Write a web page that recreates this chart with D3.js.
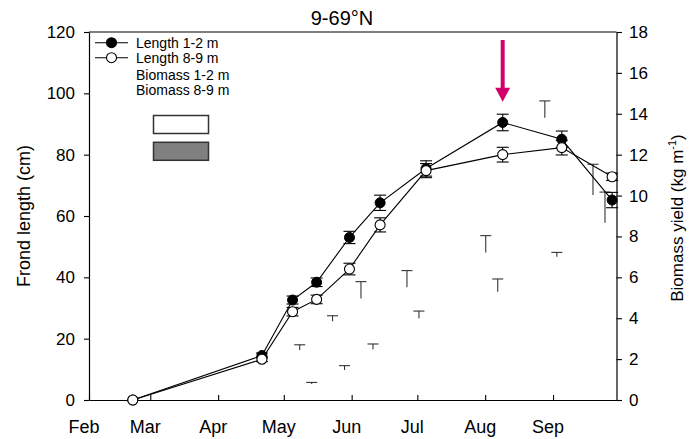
<!DOCTYPE html>
<html>
<head>
<meta charset="utf-8">
<script src="https://cdn.jsdelivr.net/npm/d3@7"></script>
<style>
  body { margin: 0; background: #fff; }
  svg text { font-family: "Liberation Sans", Arial, sans-serif; fill: #000; }
</style>
</head>
<body>
<svg id="chart" width="690" height="439"></svg>
<script>
// Month tick labels along the time axis
const monthLabels = ["Feb", "Mar", "Apr", "May", "Jun", "Jul", "Aug", "Sep"];

// Frond length sampling dates and values (cm, mean ± SE)
const lengthDates = ["2021-02-21", "2021-04-21", "2021-05-05", "2021-05-16", "2021-05-31",
                     "2021-06-14", "2021-07-05", "2021-08-09", "2021-09-05", "2021-09-28"];
const length12 = [0, 14.5, 32.6, 38.4, 53.0, 64.3, 75.5, 90.5, 85.0, 65.2];
const length12Err = [0, 0.8, 1.3, 1.4, 2.0, 2.5, 2.5, 2.7, 2.7, 2.5];
const length89 = [0, 13.3, 28.8, 32.8, 42.7, 57.1, 74.8, 80.0, 82.3, 72.8];
const length89Err = [0, 0.8, 1.4, 1.4, 1.9, 2.3, 2.3, 2.4, 2.4, 1.2];

// Biomass yield sampling dates and values (kg m-1, mean ± SE)
const biomassDates = ["2021-05-11", "2021-05-26", "2021-06-08", "2021-06-29",
                      "2021-08-04", "2021-08-31", "2021-09-22"];
const biomass12 = [2.45, 3.85, 4.97, 5.51, 7.22, 13.8, 10.03];
const biomass12Err = [0.25, 0.27, 0.82, 0.82, 0.82, 0.83, 1.5];
const biomass89 = [0.78, 1.47, 2.48, 4.0, 5.3, 7.01, 8.67];
const biomass89Err = [0.08, 0.21, 0.26, 0.35, 0.62, 0.21, 1.5];

// Axis ticks
const lengthTicks = [0, 20, 40, 60, 80, 100, 120];
const biomassTicks = [0, 2, 4, 6, 8, 10, 12, 14, 16, 18];

const parse = d3.utcParse("%Y-%m-%d");
const svg = d3.select("#chart");
const plot = { left: 89, right: 616.5, top: 32, bottom: 400 };

const x = d3.scaleUtc()
  .domain([parse("2021-02-01"), parse("2021-09-30")])
  .range([plot.left, plot.right]);
const y = d3.scaleLinear().domain([0, 120]).range([plot.bottom, plot.top]);
const y2 = d3.scaleLinear().domain([0, 18]).range([plot.bottom, plot.top]);

// Frame top line
svg.append("line")
  .attr("x1", plot.left).attr("x2", plot.right).attr("y1", plot.top).attr("y2", plot.top)
  .attr("stroke", "#000").attr("stroke-width", 1.2);

// Bottom axis: inward ticks at month starts
const monthStarts = monthLabels.map((m, i) => parse(`2021-${String(i + 2).padStart(2, "0")}-01`));
const xAxis = d3.axisBottom(x)
  .tickValues(monthStarts)
  .tickFormat((d, i) => monthLabels[i])
  .tickSizeInner(-5).tickSizeOuter(0).tickPadding(20);
const gx = svg.append("g").attr("transform", `translate(0,${plot.bottom})`).call(xAxis);
gx.selectAll("text").attr("font-size", 18).attr("dx", -5.5);

// Left axis
const gy = svg.append("g").attr("transform", `translate(${plot.left},0)`)
  .call(d3.axisLeft(y).tickValues(lengthTicks).tickSize(5).tickSizeOuter(0).tickPadding(9));
gy.selectAll("text").attr("font-size", 17);

// Right axis
const gy2 = svg.append("g").attr("transform", `translate(${plot.right},0)`)
  .call(d3.axisRight(y2).tickValues(biomassTicks).tickSize(5.5).tickSizeOuter(0).tickPadding(7));
gy2.selectAll("text").attr("font-size", 17);

svg.selectAll(".domain").attr("stroke-width", 1.2);
svg.selectAll(".tick line").attr("stroke-width", 1.1);

// Axis titles
svg.append("text")
  .attr("transform", `translate(30,216) rotate(-90)`)
  .attr("text-anchor", "middle").attr("font-size", 18)
  .text("Frond length (cm)");

const rt = svg.append("text")
  .attr("transform", `translate(683,218) rotate(-90)`)
  .attr("text-anchor", "middle").attr("font-size", 17);
rt.append("tspan").text("Biomass yield (kg m");
rt.append("tspan").attr("font-size", 11).attr("dy", -7).text("-1");
rt.append("tspan").attr("dy", 7).text(")");

// Title
svg.append("text")
  .attr("x", 342).attr("y", 25)
  .attr("text-anchor", "middle").attr("font-size", 20)
  .text("9-69°N");

// Biomass error bars (one-sided, above each bar value)
const barW = 12;
function biomassBars(values, errs, offset) {
  const g = svg.append("g").attr("stroke", "#333").attr("stroke-width", 1.1);
  values.forEach((v, i) => {
    const cx = x(parse(biomassDates[i])) + offset;
    const yTop = y2(v + errs[i]);
    g.append("line").attr("x1", cx).attr("x2", cx).attr("y1", y2(v)).attr("y2", yTop);
    g.append("line").attr("x1", cx - 5.5).attr("x2", cx + 5.5).attr("y1", yTop).attr("y2", yTop);
  });
}
biomassBars(biomass12, biomass12Err, -barW / 2);
biomassBars(biomass89, biomass89Err, barW / 2);

// Frond length series
function lengthSeries(values, errs) {
  const pts = values.map((v, i) => ({ d: parse(lengthDates[i]), v, e: errs[i] }));
  svg.append("path")
    .datum(pts)
    .attr("fill", "none").attr("stroke", "#000").attr("stroke-width", 1.1)
    .attr("d", d3.line().x(p => x(p.d)).y(p => y(p.v)));
  const eg = svg.append("g").attr("stroke", "#000").attr("stroke-width", 1.1);
  pts.filter(p => p.e > 0).forEach(p => {
    const cx = x(p.d);
    eg.append("line").attr("x1", cx).attr("x2", cx).attr("y1", y(p.v - p.e)).attr("y2", y(p.v + p.e));
    [p.v - p.e, p.v + p.e].forEach(t =>
      eg.append("line").attr("x1", cx - 6).attr("x2", cx + 6).attr("y1", y(t)).attr("y2", y(t)));
  });
  return pts;
}
const pts12 = lengthSeries(length12, length12Err);
const pts89 = lengthSeries(length89, length89Err);

svg.append("g").selectAll("circle").data(pts12).join("circle")
  .attr("cx", p => x(p.d)).attr("cy", p => y(p.v)).attr("r", 5)
  .attr("fill", "#000").attr("stroke", "#000");
svg.append("g").selectAll("circle").data(pts89).join("circle")
  .attr("cx", p => x(p.d)).attr("cy", p => y(p.v)).attr("r", 5)
  .attr("fill", "#fff").attr("stroke", "#000").attr("stroke-width", 1.1);

// Arrow marking the peak of the shallow-depth length series
const peakIdx = d3.maxIndex(length12);
const ax = x(parse(lengthDates[peakIdx]));
const tipY = y(length12[peakIdx] + length12Err[peakIdx]) - 12.5;
svg.append("line")
  .attr("x1", ax).attr("x2", ax).attr("y1", 40).attr("y2", tipY - 12)
  .attr("stroke", "#d1006b").attr("stroke-width", 4);
svg.append("path")
  .attr("d", `M${ax - 7.5},${tipY - 14} L${ax + 7.5},${tipY - 14} L${ax},${tipY} Z`)
  .attr("fill", "#d1006b");

// Legend
const leg = svg.append("g");
[[42.7, "#000", "Length 1-2 m"], [57.7, "#fff", "Length 8-9 m"]].forEach(([ly, f, t]) => {
  leg.append("line").attr("x1", 95).attr("x2", 128).attr("y1", ly).attr("y2", ly)
    .attr("stroke", "#000").attr("stroke-width", 1.1);
  leg.append("circle").attr("cx", 111.5).attr("cy", ly).attr("r", 5)
    .attr("fill", f).attr("stroke", "#000").attr("stroke-width", 1.1);
  leg.append("text").attr("x", 136).attr("y", ly + 4.8).attr("font-size", 14).text(t);
});
leg.append("text").attr("x", 136).attr("y", 79.5).attr("font-size", 14).text("Biomass 1-2 m");
leg.append("text").attr("x", 136).attr("y", 95.3).attr("font-size", 14).text("Biomass 8-9 m");
leg.append("rect").attr("x", 153.5).attr("y", 115.5).attr("width", 55).attr("height", 18)
  .attr("fill", "#fff").attr("stroke", "#333").attr("stroke-width", 1.5);
leg.append("rect").attr("x", 153.5).attr("y", 142.3).attr("width", 55).attr("height", 18)
  .attr("fill", "#808080").attr("stroke", "#333").attr("stroke-width", 1.5);
</script>
</body>
</html>
